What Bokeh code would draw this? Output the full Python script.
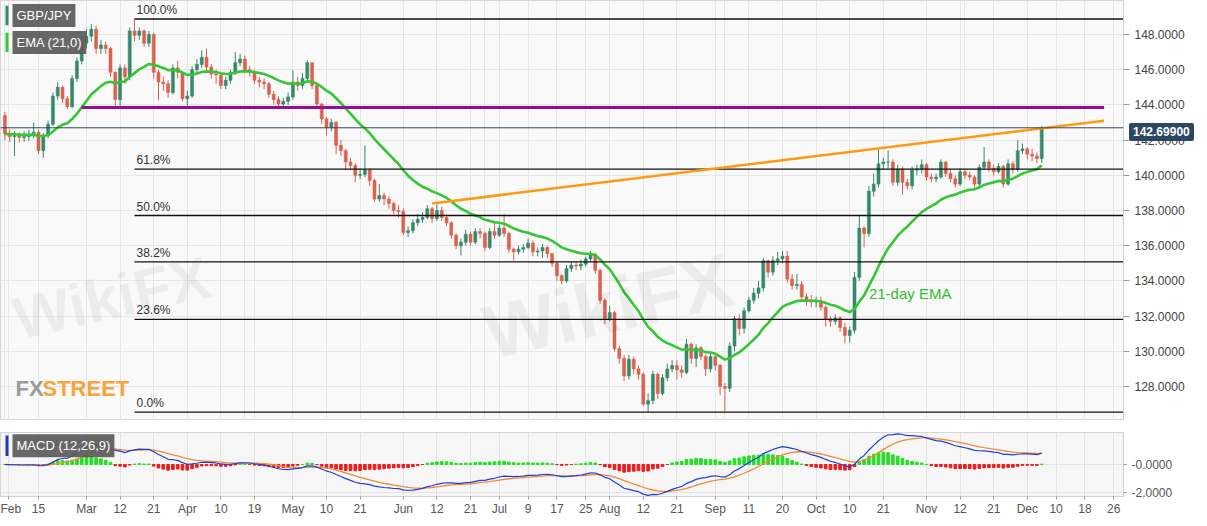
import numpy as np

from bokeh.plotting import figure
from bokeh.layouts import column
from bokeh.models import (ColumnDataSource, Range1d, FixedTicker, Grid, Div,
                          NumeralTickFormatter, Span, Label, BoxAnnotation)
from bokeh.embed import file_html
from bokeh.resources import INLINE

# daily GBP/JPY candles (open = previous close), last one is 2019-12-05
last_date = "2019-12-05"
first_open = 143.40
closes = [
    # Feb
    142.35, 142.20, 142.25, 142.15, 142.20, 142.25, 142.45, 141.40, 142.25, 142.90,
    144.50, 145.00, 144.35, 143.90, 145.50, 146.50, 147.50, 147.90,
    # Mar
    148.30, 147.20, 147.40, 147.20, 145.85, 144.30, 146.10, 145.60, 148.20, 147.95,
    148.20, 147.50, 148.00, 145.85, 145.30, 145.20, 144.70, 146.10, 145.85, 144.35, 144.50,
    # Apr
    146.00, 146.30, 146.70, 146.15, 145.75, 145.70, 145.10, 145.40, 145.85, 146.40,
    146.60, 146.00, 145.90, 145.40, 145.30, 145.20, 144.60, 144.30, 144.05, 144.20,
    144.45, 145.30,
    # May
    145.10, 145.50, 146.40, 145.10, 144.05, 143.20, 142.70, 143.00, 141.70, 141.40,
    140.75, 140.55, 140.00, 140.05, 140.30, 139.70, 138.65, 138.85, 138.65, 138.40,
    138.00, 137.95, 136.75,
    # Jun
    136.85, 137.30, 137.50, 137.60, 138.10, 137.55, 138.00, 137.60, 137.30, 136.60,
    136.00, 136.20, 136.65, 136.20, 136.80, 136.70, 135.90, 136.80, 136.60, 137.00,
    # Jul
    136.70, 135.80, 135.65, 135.80, 135.90, 136.15, 135.65, 135.70, 135.90, 135.55,
    135.00, 134.30, 134.00, 134.70, 134.90, 134.85, 134.95, 135.25, 135.50, 134.60,
    132.90, 131.85, 132.20,
    # Aug
    130.15, 129.60, 128.60, 129.55, 129.00, 128.70, 127.00, 127.20, 128.70, 127.60,
    128.50, 129.00, 129.20, 128.95, 128.80, 130.40, 129.60, 130.20, 129.70, 129.00,
    129.70, 129.20,
    # Sep
    128.00, 127.90, 130.30, 131.85, 131.30, 132.30, 132.90, 133.30, 133.60, 135.15,
    134.50, 135.15, 135.25, 135.40, 134.10, 133.74, 133.80, 133.10, 132.90, 132.80,
    132.85,
    # Oct
    132.50, 131.85, 131.70, 131.90, 131.35, 130.90, 131.20, 134.20, 137.00, 136.70,
    139.10, 139.50, 140.65, 140.75, 140.75, 139.60, 140.35, 139.60, 139.40, 140.30,
    140.35, 140.60, 139.90,
    # Nov
    139.80, 139.90, 140.75, 140.10, 139.80, 139.50, 140.20, 140.00, 139.90, 139.50,
    140.45, 140.75, 140.40, 140.20, 140.50, 139.50, 140.65, 140.35, 141.40, 141.50,
    141.20,
    # Dec
    141.10, 140.95, 142.699,
]
highs = [
    143.60, 142.60, 142.50, 142.45, 142.50, 142.60, 143.00, 142.60, 142.40, 143.10,
    144.70, 145.30, 145.10, 144.50, 145.70, 146.70, 147.90, 148.30,
    148.60, 148.50, 147.70, 147.60, 147.30, 145.90, 146.30, 146.30, 148.40, 148.88,
    148.40, 148.30, 148.20, 148.10, 146.00, 145.60, 145.40, 146.30, 146.50, 145.90, 144.80,
    146.20, 146.60, 147.10, 147.20, 146.30, 146.00, 145.80, 145.60, 146.00, 147.00,
    146.90, 146.80, 146.20, 146.00, 145.60, 145.50, 145.30, 144.80, 144.50, 144.40,
    144.70, 145.95,
    145.60, 145.80, 146.55, 146.20, 145.20, 144.10, 143.30, 143.20, 143.10, 142.00,
    141.50, 141.00, 140.70, 140.40, 141.70, 140.40, 139.80, 139.50, 139.00, 138.80,
    138.50, 138.30, 138.10,
    137.10, 137.50, 137.80, 137.90, 138.30, 138.20, 138.35, 138.20, 137.80, 137.40,
    136.70, 136.40, 136.90, 136.80, 137.00, 137.00, 136.80, 137.00, 137.30, 137.20,
    137.80, 136.80, 135.90, 136.00, 136.10, 136.40, 136.30, 135.90, 136.10, 136.00,
    135.60, 135.10, 134.40, 134.90, 135.10, 135.10, 135.20, 135.40, 135.70, 135.60,
    134.70, 133.00, 132.60,
    132.30, 130.30, 129.80, 129.80, 129.70, 129.20, 128.80, 127.60, 128.90, 128.80,
    128.70, 129.30, 129.50, 129.50, 129.20, 130.70, 130.50, 130.40, 130.30, 129.80,
    129.90, 129.80,
    129.30, 128.20, 130.50, 132.00, 132.10, 132.50, 133.10, 133.60, 134.00, 135.30,
    135.20, 135.40, 135.65, 135.70, 135.70, 134.40, 134.40, 134.00, 133.30, 133.20,
    133.10,
    133.10, 132.60, 132.00, 132.10, 132.00, 131.60, 131.40, 134.50, 137.70, 137.10,
    139.40, 140.10, 141.50, 141.00, 141.40, 140.90, 140.60, 140.50, 139.80, 140.50,
    140.60, 140.90, 140.70,
    140.10, 140.10, 140.90, 140.80, 140.30, 140.00, 140.40, 140.30, 140.20, 140.00,
    140.60, 141.60, 140.90, 140.60, 140.70, 140.60, 140.90, 140.80, 142.00, 141.80,
    141.60,
    141.50, 141.30, 142.80,
]
lows = [
    142.00, 141.90, 141.10, 141.85, 141.90, 141.95, 142.10, 141.20, 141.00, 142.10,
    142.80, 144.30, 144.10, 143.75, 143.80, 145.30, 146.30, 147.20,
    147.60, 146.90, 146.90, 146.90, 145.60, 143.90, 143.85, 145.20, 145.40, 147.60,
    147.70, 147.30, 147.30, 145.50, 144.25, 144.80, 144.40, 144.60, 145.50, 144.20, 143.85,
    144.40, 145.80, 146.10, 145.90, 145.50, 145.20, 144.90, 144.90, 145.20, 145.70,
    146.20, 145.80, 145.60, 145.20, 145.00, 144.90, 144.40, 144.00, 143.80, 143.80,
    144.00, 144.30,
    144.80, 144.90, 145.30, 144.90, 143.80, 142.90, 142.25, 142.50, 141.20, 141.10,
    140.30, 140.30, 139.60, 139.80, 139.90, 139.40, 138.50, 138.50, 138.30, 138.10,
    137.80, 137.60, 136.60,
    136.50, 136.70, 137.10, 137.30, 137.50, 137.30, 137.40, 137.40, 137.10, 136.40,
    135.80, 135.45, 136.00, 136.00, 136.10, 136.40, 135.70, 135.80, 136.40, 136.50,
    136.50, 135.60, 135.15, 135.50, 135.60, 135.80, 135.40, 135.40, 135.30, 135.30,
    134.80, 134.00, 133.80, 133.90, 134.50, 134.60, 134.60, 134.80, 135.10, 134.40,
    132.70, 131.55, 131.70,
    130.00, 129.30, 128.30, 128.40, 128.70, 128.40, 126.90, 126.55, 127.00, 127.30,
    127.50, 128.30, 128.80, 128.40, 128.50, 128.70, 129.30, 129.10, 129.50, 128.60,
    128.80, 128.90,
    127.50, 126.60, 127.70, 130.00, 130.90, 131.00, 132.20, 132.70, 133.00, 133.40,
    134.20, 134.30, 134.90, 135.00, 133.90, 133.50, 133.50, 132.90, 132.60, 132.50,
    132.50,
    132.30, 131.40, 131.40, 131.50, 131.10, 130.45, 130.50, 131.00, 134.00, 135.90,
    136.50, 138.80, 139.30, 140.30, 140.40, 139.40, 139.40, 138.90, 139.20, 139.20,
    140.00, 140.10, 139.70,
    139.60, 139.60, 139.80, 139.90, 139.60, 139.30, 139.40, 139.80, 139.70, 139.30,
    139.40, 140.30, 140.20, 140.00, 140.10, 139.30, 139.40, 140.10, 140.20, 141.20,
    140.90,
    140.80, 140.70, 140.70,
]

# x axis labels
tick_dates = ["2019-02-01", "2019-02-15", "2019-03-01", "2019-03-12", "2019-03-21",
              "2019-04-01", "2019-04-10", "2019-04-19", "2019-05-01", "2019-05-10",
              "2019-05-21", "2019-06-03", "2019-06-12", "2019-06-21", "2019-07-01",
              "2019-07-09", "2019-07-17", "2019-07-25", "2019-08-01", "2019-08-12",
              "2019-08-21", "2019-09-02", "2019-09-11", "2019-09-20", "2019-10-01",
              "2019-10-10", "2019-10-21", "2019-11-01", "2019-11-12", "2019-11-21",
              "2019-12-02", "2019-12-10", "2019-12-18", "2019-12-26"]
tick_labels = ["Feb", "15", "Mar", "12", "21", "Apr", "10", "19", "May", "10", "21",
               "Jun", "12", "21", "Jul", "9", "17", "25", "Aug", "12", "21", "Sep",
               "11", "20", "Oct", "10", "21", "Nov", "12", "21", "Dec", "10", "18", "26"]

# drawn levels
fib_ratios = [1.0, 0.618, 0.5, 0.382, 0.236, 0.0]
resistance_level = 143.85
resistance_dates = ["2019-02-28", "2019-12-24"]
trend_dates = ["2019-06-11", "2019-12-24"]
trend_prices = [138.40, 143.10]
ema_period = 21
macd_fast, macd_slow, macd_sig = 12, 26, 9

FONT = "Liberation Sans"
UP, DOWN = "#37886b", "#d9634e"
MAIN_H = 420
Y_LO, Y_HI = 126.07, 149.93

n = len(closes)
first_date = np.busday_offset(np.datetime64(last_date), -(n - 1))


def day_index(d):
    return int(np.busday_count(first_date, np.datetime64(d)))


def ema(values, period):
    k = 2.0 / (period + 1)
    out = [values[0]]
    for v in values[1:]:
        out.append(out[-1] + k * (v - out[-1]))
    return np.array(out)


idx = np.arange(n)
c = np.array(closes)
o = np.array([first_open] + closes[:-1])
colors = [UP if cc >= oo else DOWN for oo, cc in zip(o, c)]
candles = ColumnDataSource(data=dict(
    x=idx, top=np.maximum(o, c), bottom=np.minimum(o, c),
    high=highs, low=lows, color=colors))

ema21 = ema(c, ema_period)
macd = ema(c, macd_fast) - ema(c, macd_slow)
signal = ema(macd, macd_sig)
hist = macd - signal

# visible window (4.8 px per day, frame 1123 px wide)
x_start = day_index("2019-03-01") - 86 / 4.8
x_end = x_start + 1123 / 4.8
x_range = Range1d(x_start, x_end)

tick_pos = [max(day_index(d), x_start + 1.7) for d in tick_dates]
overrides = {t: lab for t, lab in zip(tick_pos, tick_labels)}

# ---- main price panel
p = figure(width=1199, height=MAIN_H, x_range=x_range, y_range=Range1d(Y_LO, Y_HI),
           x_axis_location=None, y_axis_location="right",
           output_backend="svg", toolbar_location=None,
           min_border_left=0, min_border_top=0, min_border_bottom=0, min_border_right=76)
p.background_fill_color = "#f9f9f9"
p.border_fill_color = "white"
p.outline_line_color = "#d6d6d6"
p.add_layout(Grid(dimension=0, ticker=FixedTicker(ticks=tick_pos),
                  grid_line_color="#e6e6e6"))
p.ygrid.grid_line_color = "#e6e6e6"
p.yaxis.ticker = FixedTicker(ticks=list(range(128, 150, 2)))
p.yaxis.formatter = NumeralTickFormatter(format="0.0000")
p.yaxis.major_label_text_font = FONT
p.yaxis.major_label_text_font_size = "12px"
p.yaxis.major_label_text_color = "#444444"
p.yaxis.axis_line_color = "#cfcfcf"
p.yaxis.major_tick_line_color = "#999999"
p.yaxis.major_tick_in = 0
p.yaxis.major_tick_out = 6
p.yaxis.minor_tick_line_color = None

# watermarks
for wx, wy, fs in [(day_index("2019-02-08"), 131.8, "60px"),
                   (day_index("2019-06-26"), 131.0, "76px")]:
    p.add_layout(Label(x=wx, y=wy, text="WikiFX", text_font=FONT,
                       text_font_size=fs, text_font_style="bold",
                       text_color="#000000", text_alpha=0.05, angle=0.22,
                       text_baseline="middle"))

p.segment(x0="x", y0="high", x1="x", y1="low", color="color", line_width=1,
          source=candles)
p.vbar(x="x", width=0.62, top="top", bottom="bottom", fill_color="color",
       line_color="color", line_width=0.6, source=candles)

p.line(idx, ema21, line_color="#34c634", line_width=2.6)

# Fibonacci retracement from the March high to the August low
hi_i = int(np.argmax(highs))
hi, lo = max(highs), min(lows)
fib_levels = [lo + r * (hi - lo) for r in fib_ratios]
fib_src = ColumnDataSource(data=dict(
    x0=[hi_i] * len(fib_levels), x1=[x_end] * len(fib_levels), y=fib_levels,
    text=[f"{r * 100:.1f}%" for r in fib_ratios]))
p.segment(x0="x0", y0="y", x1="x1", y1="y", line_color="#111111", line_width=1.3,
          source=fib_src)
p.text(x="x0", y="y", text="text", source=fib_src, x_offset=2, y_offset=-2,
       text_baseline="bottom", text_font_size="12px", text_color="#333333",
       text_font={"value": FONT})

p.segment(x0=[day_index(resistance_dates[0])], y0=[resistance_level],
          x1=[day_index(resistance_dates[1])], y1=[resistance_level],
          line_color="#9a0a9a", line_width=3)
p.line([day_index(d) for d in trend_dates], trend_prices, line_color="#ff9a10",
       line_width=2.5)

p.add_layout(Span(location=closes[-1], dimension="width", line_color="#2c4763",
                  line_width=1))

p.add_layout(Label(x=day_index("2019-10-16"), y=133.3, text="21-day EMA",
                   text_font=FONT, text_font_size="15px", text_color="#2fbf2f",
                   text_baseline="middle"))

# FXSTREET logo
p.add_layout(Label(x=15, x_units="screen", y=127.9, text="FX", text_font=FONT,
                   text_font_size="22px", text_font_style="bold",
                   text_color="#9a9a9a", text_baseline="middle"))
p.add_layout(Label(x=42, x_units="screen", y=127.9, text="STREET", text_font=FONT,
                   text_font_size="22px", text_font_style="bold",
                   text_color="#f6a53c", text_baseline="middle"))

# legend boxes
for txt, yc, stripe in [("GBP/JPY", 149.08, "#2f8a70"), ("EMA (21,0)", 147.55, "#33cc33")]:
    p.add_layout(Label(x=12, x_units="screen", y=yc, text=txt, text_font=FONT,
                       text_font_size="13px", text_color="white",
                       text_baseline="middle", background_fill_color="#5a5a5a",
                       background_fill_alpha=0.92, padding=4))
    p.add_layout(BoxAnnotation(left=5, right=8, left_units="screen",
                               right_units="screen", top=yc + 0.55, bottom=yc - 0.55,
                               fill_color=stripe, fill_alpha=1, line_color=None))

# ---- MACD panel
m = figure(width=1199, height=98, x_range=x_range, y_range=Range1d(-2.27, 2.27),
           y_axis_location="right", output_backend="svg", toolbar_location=None,
           min_border_left=0, min_border_top=12, min_border_bottom=0, min_border_right=76)
m.background_fill_color = "#f6f6f6"
m.border_fill_color = "white"
m.outline_line_color = "#d6d6d6"
m.xaxis.ticker = FixedTicker(ticks=tick_pos)
m.xaxis.major_label_overrides = overrides
m.xgrid.ticker = FixedTicker(ticks=tick_pos)
m.xgrid.grid_line_color = "#e3e3e3"
m.ygrid.grid_line_color = "#e3e3e3"
m.yaxis.ticker = FixedTicker(ticks=[-2, 0])
m.yaxis.major_label_overrides = {0: "-0.0000", -2: "-2.0000"}
for ax in (m.xaxis, m.yaxis):
    ax.major_label_text_font = FONT
    ax.major_label_text_font_size = "12px"
    ax.major_label_text_color = "#555555"
    ax.axis_line_color = "#cfcfcf"
    ax.major_tick_line_color = "#999999"
    ax.major_tick_in = 0
    ax.major_tick_out = 3
    ax.minor_tick_line_color = None
m.xaxis.major_label_standoff = 2

hist_colors = ["#22e022" if h >= 0 else "#ee1c1c" for h in hist]
m.vbar(x=idx, width=0.55, top=hist, bottom=0, fill_color=hist_colors,
       line_color=hist_colors)
m.line(idx, signal, line_color="#f28a30", line_width=1.3)
m.line(idx, macd, line_color="#2040d8", line_width=1.2)

m.add_layout(Label(x=12, x_units="screen", y=1.33, text="MACD (12,26,9)",
                   text_font=FONT, text_font_size="13px", text_color="white",
                   text_baseline="middle", background_fill_color="#5a5a5a",
                   background_fill_alpha=0.92, padding=4))
m.add_layout(BoxAnnotation(left=5, right=8, left_units="screen", right_units="screen",
                           top=2.05, bottom=0.6, fill_color="#2233cc", fill_alpha=1,
                           line_color=None))

# last price tag over the price axis (annotations are clipped to the frame)
tag_top = (Y_HI - closes[-1]) / (Y_HI - Y_LO) * MAIN_H - 9
tag = Div(text=f"{closes[-1]:.5f}", styles={
    "position": "absolute", "left": "1124px", "top": f"{tag_top:.0f}px",
    "background-color": "#2c4763", "color": "white", "font-weight": "bold",
    "font-size": "12px", "font-family": FONT, "padding": "1px 4px",
    "line-height": "16px", "border-radius": "2px"})

layout = column(p, m, tag, spacing=0)
open("out.html", "w").write(file_html(layout, INLINE, title="GBP/JPY"))
